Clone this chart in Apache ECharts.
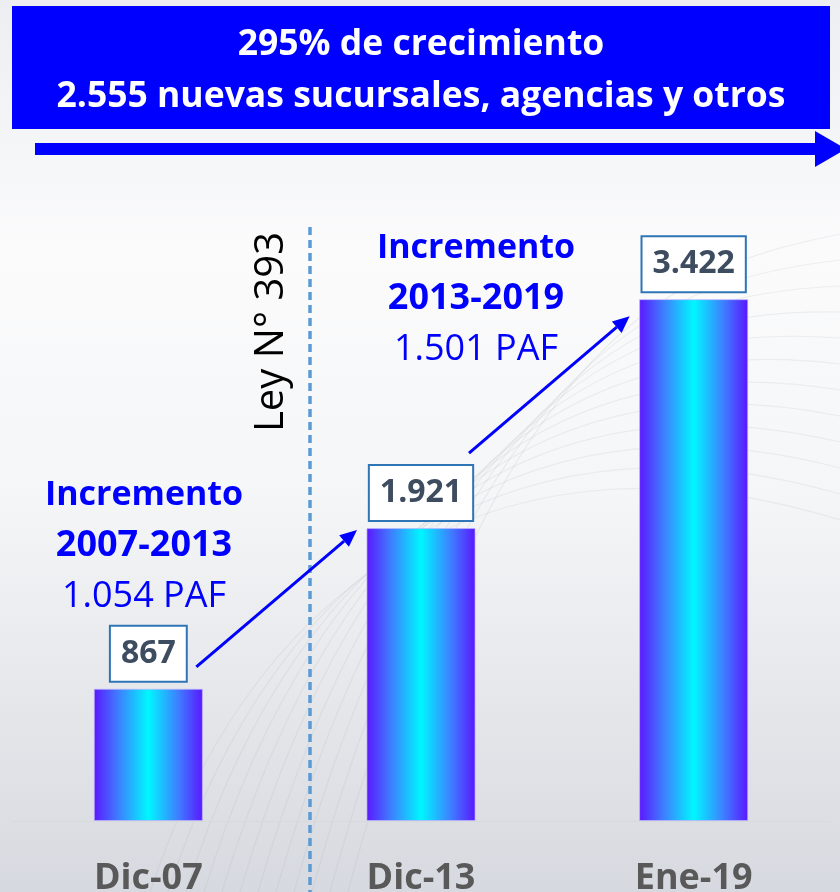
<!DOCTYPE html>
<html>
<head>
<meta charset="utf-8">
<script src="https://cdn.jsdelivr.net/npm/echarts@6/dist/echarts.min.js"></script>
<style>
  html, body { margin: 0; padding: 0; }
  #chart { width: 840px; height: 892px; }
</style>
</head>
<body>
<div id="chart"></div>
<script>
// data
const categories = ['Dic-07', 'Dic-13', 'Ene-19']
const values = [867, 1921, 3422]
const bannerLines = ['295% de crecimiento', '2.555 nuevas sucursales, agencias y otros']
const increments = [
  ['Incremento', '2007-2013', '1.054 PAF'],
  ['Incremento', '2013-2019', '1.501 PAF']
]
const lawLabel = 'Ley N° 393'

const FONT = '"Open Sans", "Noto Sans", sans-serif'
const BLUE = '#0000FF'

const fmt = v => String(v).replace(/\B(?=(\d{3})+(?!\d))/g, '.')

const barGradient = new echarts.graphic.LinearGradient(0, 0, 1, 0, [
  { offset: 0, color: '#5A17FF' },
  { offset: 0.22, color: '#3F7CFF' },
  { offset: 0.5, color: '#00F7FF' },
  { offset: 0.78, color: '#3F7CFF' },
  { offset: 1, color: '#5A17FF' }
])

const chart = echarts.init(document.getElementById('chart'))

chart.setOption({
  animation: false,
  backgroundColor: new echarts.graphic.LinearGradient(0, 0, 0, 1, [
    { offset: 0, color: '#eceef1' },
    { offset: 0.28, color: '#fbfbfc' },
    { offset: 0.55, color: '#f5f6f7' },
    { offset: 1, color: '#d6d9df' }
  ]),
  grid: { left: 12, right: 10, top: 211, bottom: 71, containLabel: false, outerBoundsMode: 'none' },
  xAxis: {
    type: 'category',
    data: categories,
    axisTick: { show: false },
    axisLine: { lineStyle: { color: '#d9d9d9', width: 1 } },
    axisLabel: {
      color: '#595959',
      fontFamily: FONT,
      fontWeight: 'bold',
      fontSize: 36,
      margin: 40
    }
  },
  yAxis: {
    type: 'value',
    min: 0,
    max: 4000,
    show: false
  },
  series: [{
    type: 'bar',
    data: values,
    barWidth: '40%',
    z: 3,
    itemStyle: {
      color: barGradient,
      borderColor: 'rgba(190,180,255,0.7)',
      borderWidth: 1
    },
    label: {
      show: true,
      position: 'top',
      distance: 8,
      formatter: p => fmt(p.value),
      color: '#3E4C60',
      fontFamily: FONT,
      fontWeight: 'bold',
      fontSize: 32,
      lineHeight: 34,
      backgroundColor: '#ffffff',
      borderColor: '#2E75B6',
      borderWidth: 2,
      padding: [10, 10, 10, 10]
    }
  }]
})

// annotations built on top of the data positions
const px = i => chart.convertToPixel({ gridIndex: 0 }, [i, values[i]])

function arrow(from, to) {
  const ang = Math.atan2(to[1] - from[1], to[0] - from[0])
  const len = 17, half = 7.5
  const bx = to[0] - len * Math.cos(ang), by = to[1] - len * Math.sin(ang)
  const nx = -Math.sin(ang) * half, ny = Math.cos(ang) * half
  return [
    { type: 'line', z: 5, shape: { x1: from[0], y1: from[1], x2: bx, y2: by }, style: { stroke: BLUE, lineWidth: 3 } },
    { type: 'polygon', z: 5, shape: { points: [[to[0], to[1]], [bx + nx, by + ny], [bx - nx, by - ny]] }, style: { fill: BLUE } }
  ]
}

const startOff = [[48, -22], [48, -75]]
const endOff = [[-64, 2], [-64, 17]]
const incPos = [[144, 495], [476, 248]]

const graphic = []

// faint background swooshes
for (let i = 0; i < 12; i++) {
  graphic.push({
    type: 'bezierCurve', z: -10, silent: true,
    shape: {
      x1: 150 + i * 18, y1: 892,
      cpx1: 260 + i * 22, cpy1: 560 - i * 22,
      cpx2: 520 + i * 15, cpy2: 420 - i * 14,
      x2: 840, y2: 520 - i * 26
    },
    style: { stroke: 'rgba(170,172,180,0.16)', lineWidth: 1.2, fill: null }
  })
}

// banner
graphic.push({ type: 'rect', shape: { x: 12, y: 6, width: 818, height: 123 }, style: { fill: BLUE } })
bannerLines.forEach((t, i) => {
  graphic.push({
    type: 'text', x: 421, y: 45 + i * 52,
    style: { text: t, fill: '#fff', font: 'bold 35.5px ' + FONT, align: 'center', verticalAlign: 'middle' }
  })
})
graphic.push({ type: 'rect', shape: { x: 35, y: 143, width: 782, height: 12 }, style: { fill: BLUE } })
graphic.push({ type: 'polygon', shape: { points: [[815, 131], [846, 149], [815, 167]] }, style: { fill: BLUE } })

// law divider
graphic.push({
  type: 'line', z: 4, shape: { x1: 310, y1: 227, x2: 310, y2: 892 },
  style: { stroke: '#5B9BD5', lineWidth: 3.5, lineDash: [8, 5] }
})
graphic.push({
  type: 'text', x: 272, y: 332, rotation: Math.PI / 2,
  style: { text: lawLabel, fill: '#000', font: '40px ' + FONT, align: 'center', verticalAlign: 'middle' }
})

// increment notes
increments.forEach((lines, k) => {
  lines.forEach((t, j) => {
    graphic.push({
      type: 'text', x: incPos[k][0], y: incPos[k][1] + j * 51,
      style: {
        text: t, fill: BLUE, align: 'center', verticalAlign: 'middle',
        font: (j < 2 ? 'bold ' : '') + (j === 0 ? '34px ' : '36px ') + FONT
      }
    })
  })
})

// arrows between labels
for (let k = 0; k < 2; k++) {
  const a = px(k), b = px(k + 1)
  graphic.push(...arrow(
    [a[0] + startOff[k][0], a[1] + startOff[k][1]],
    [b[0] + endOff[k][0], b[1] + endOff[k][1]]
  ))
}

chart.setOption({ graphic })
</script>
</body>
</html>
